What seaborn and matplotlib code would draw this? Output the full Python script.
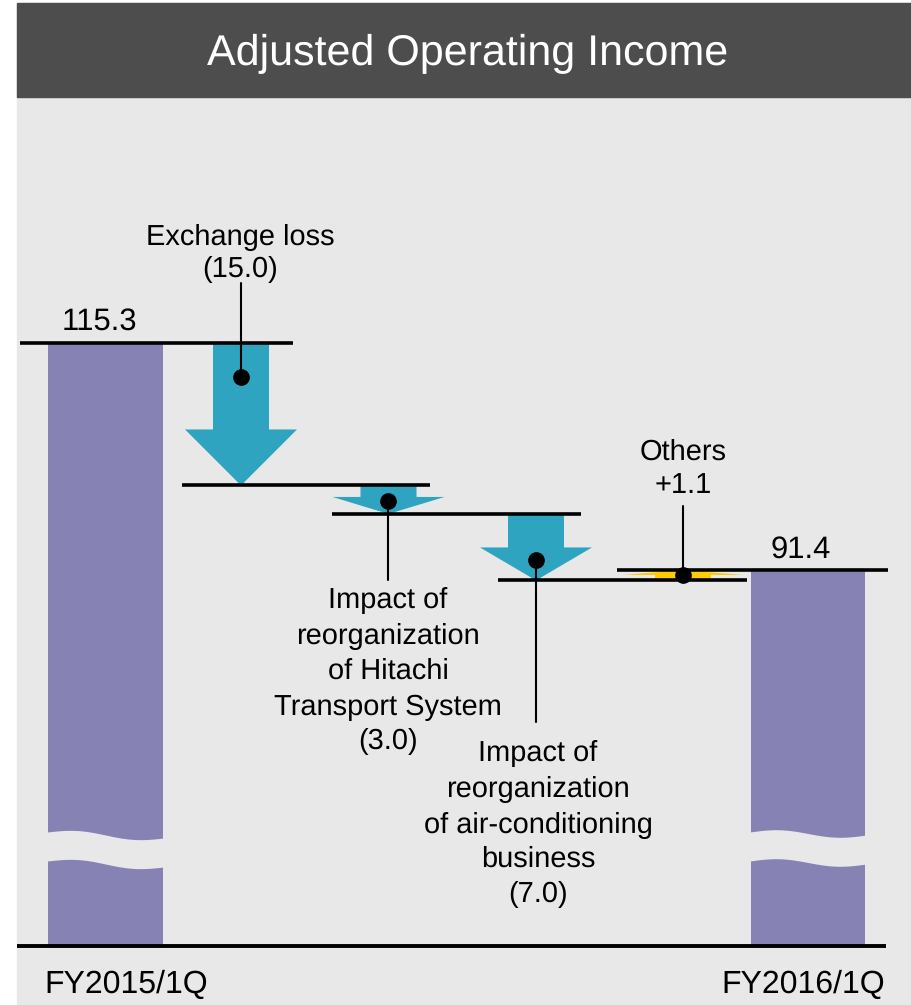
import numpy as np
import pandas as pd
import matplotlib
matplotlib.use("Agg")
import matplotlib.pyplot as plt
from matplotlib.patches import Rectangle, Polygon
from matplotlib import font_manager
import seaborn as sns

# ---------------- data ----------------
title = "Adjusted Operating Income"
period_labels = ["FY2015/1Q", "FY2016/1Q"]
period_values = [115.3, 91.4]
value_labels = ["115.3", "91.4"]
change_values = [-15.0, -3.0, -7.0, 1.1]
change_texts = [
    ["Exchange loss", "(15.0)"],
    ["Impact of", "reorganization", "of Hitachi", "Transport System", "(3.0)"],
    ["Impact of", "reorganization", "of air-conditioning", "business", "(7.0)"],
    ["Others", "+1.1"],
]

# ---------------- style / layout ----------------
W, H = 912, 1005
BG = "#e8e8e8"
HEADER = "#4d4d4d"
PURPLE = "#8682b4"
TEAL = "#2ea4c1"
YELLOW = "#ffcc00"

sns.set_style("white", {"text.color": "black"})
names = {f.name for f in font_manager.fontManager.ttflist}
BODY_FONT = ["Liberation Sans", "DejaVu Sans"]
if "Liberation Sans Narrow" in names:
    TITLE_FONT, TITLE_SIZE = ["Liberation Sans Narrow", "Liberation Sans"], 38
else:
    TITLE_FONT, TITLE_SIZE = ["Liberation Sans", "DejaVu Sans"], 31
plt.rcParams["font.family"] = BODY_FONT
plt.rcParams["text.color"] = "black"
plt.rcParams["text.hinting"] = "no_hinting"
plt.rcParams["text.hinting_factor"] = 1

fig = plt.figure(figsize=(W / 100, H / 100), dpi=100)
fig.patch.set_facecolor("white")
# panel and header
fig.add_artist(Rectangle((17 / W, 0), (W - 17) / W, 1 - 3 / H,
                         transform=fig.transFigure, color=BG, zorder=0))
fig.add_artist(Rectangle((17 / W, 1 - 97 / H), (W - 17) / W, 94 / H,
                         transform=fig.transFigure, color=HEADER, zorder=0))
fig.text(468 / W, 1 - 65 / H, title, color="white", ha="center", va="baseline",
         fontsize=TITLE_SIZE, family=TITLE_FONT)

AX_TOP, AX_BOT = 97, 946
ax = fig.add_axes([17 / W, 1 - AX_BOT / H, (W - 17) / W, (AX_BOT - AX_TOP) / H])
ax.set_facecolor("none")

YMIN, YMAX = 51.81, 141.2
SCALE = (AX_BOT - AX_TOP) / (YMAX - YMIN)  # px per unit


def px2v(ypx):
    return YMAX - (ypx - AX_TOP) / SCALE


bar_x = [105.5, 808.0]
bar_w = 114.5
df = pd.DataFrame({"x": bar_x, "value": period_values})
sns.barplot(data=df, x="x", y="value", native_scale=True,
            width=bar_w / (bar_x[1] - bar_x[0]), color=PURPLE, saturation=1,
            errorbar=None, linewidth=0, ax=ax, zorder=1)

# wave breaks on both bars
for bx, tilt in zip(bar_x, [6, 3]):
    xs = np.linspace(bx - bar_w / 2 - 1, bx + bar_w / 2 + 1, 80)
    t = (xs - xs[0]) / (xs[-1] - xs[0])
    top_px = 832 + tilt * t - 3 * np.sin(2 * np.pi * t)
    ax.fill_between(xs, px2v(top_px), px2v(top_px + 29), color=BG, lw=0, zorder=2)

# levels
levels = [period_values[0]]
for c in change_values:
    levels.append(round(levels[-1] + c, 1))

arrow_x = [241, 388.5, 536, 683]
head_px = [56, 17, 33, 5]
head_half = [56, 56, 56, 60]
shaft_half = 28
for i, c in enumerate(change_values):
    s, e = levels[i], levels[i + 1]
    cx = arrow_x[i]
    d = np.sign(e - s)
    hl = head_px[i] / SCALE
    base = e - d * hl
    hw = head_half[i]
    pts = [(cx - shaft_half, s), (cx + shaft_half, s), (cx + shaft_half, base),
           (cx + hw, base), (cx, e), (cx - hw, base), (cx - shaft_half, base)]
    ax.add_patch(Polygon(pts, closed=True, color=TEAL if c < 0 else YELLOW,
                         lw=0, zorder=3))

# level lines
line_ext = [(20, 293), (182, 430), (332, 581), (498, 747), (617, 888)]
for lv, (x0, x1) in zip(levels, line_ext):
    ax.plot([x0, x1], [lv, lv], color="black", lw=2.6, solid_capstyle="butt",
            zorder=5, clip_on=False)
# baseline
ax.plot([17, 886], [YMIN, YMIN], color="black", lw=2.8, solid_capstyle="butt",
        zorder=5, clip_on=False)

# callouts: dot + stem + text
dot_frac = [0.24, 0.53, 0.69, 0.5]
stem_end = [283, 580, 722, 506]
text_x = [240, 388, 538, 683]
text_base = [[245, 277], [609, 644, 679, 715, 749], [762, 797, 833, 867, 902], [460, 493]]
for i in range(len(change_values)):
    s, e = levels[i], levels[i + 1]
    vd = s + (e - s) * dot_frac[i]
    cx = arrow_x[i]
    ax.plot([cx, cx], [vd, px2v(stem_end[i])], color="black", lw=1.5, zorder=6)
    ax.plot([cx], [vd], "o", ms=11, color="black", zorder=7)
    for txt, yb in zip(change_texts[i], text_base[i]):
        ax.text(text_x[i], px2v(yb), txt, ha="center", va="baseline",
                fontsize=21, color="black")

# totals labels
for lbl, xx, yb in zip(value_labels, [99.5, 801], [330, 558]):
    ax.text(xx, px2v(yb), lbl, ha="center", va="baseline", fontsize=22, color="black")
for lbl, xx in zip(period_labels, [126, 803]):
    ax.text(xx, px2v(993), lbl, ha="center", va="baseline", fontsize=23, color="black")

ax.set_xlim(17, 912)
ax.set_ylim(YMIN, YMAX)
ax.set_axis_off()

fig.savefig("out.png", dpi=100)
